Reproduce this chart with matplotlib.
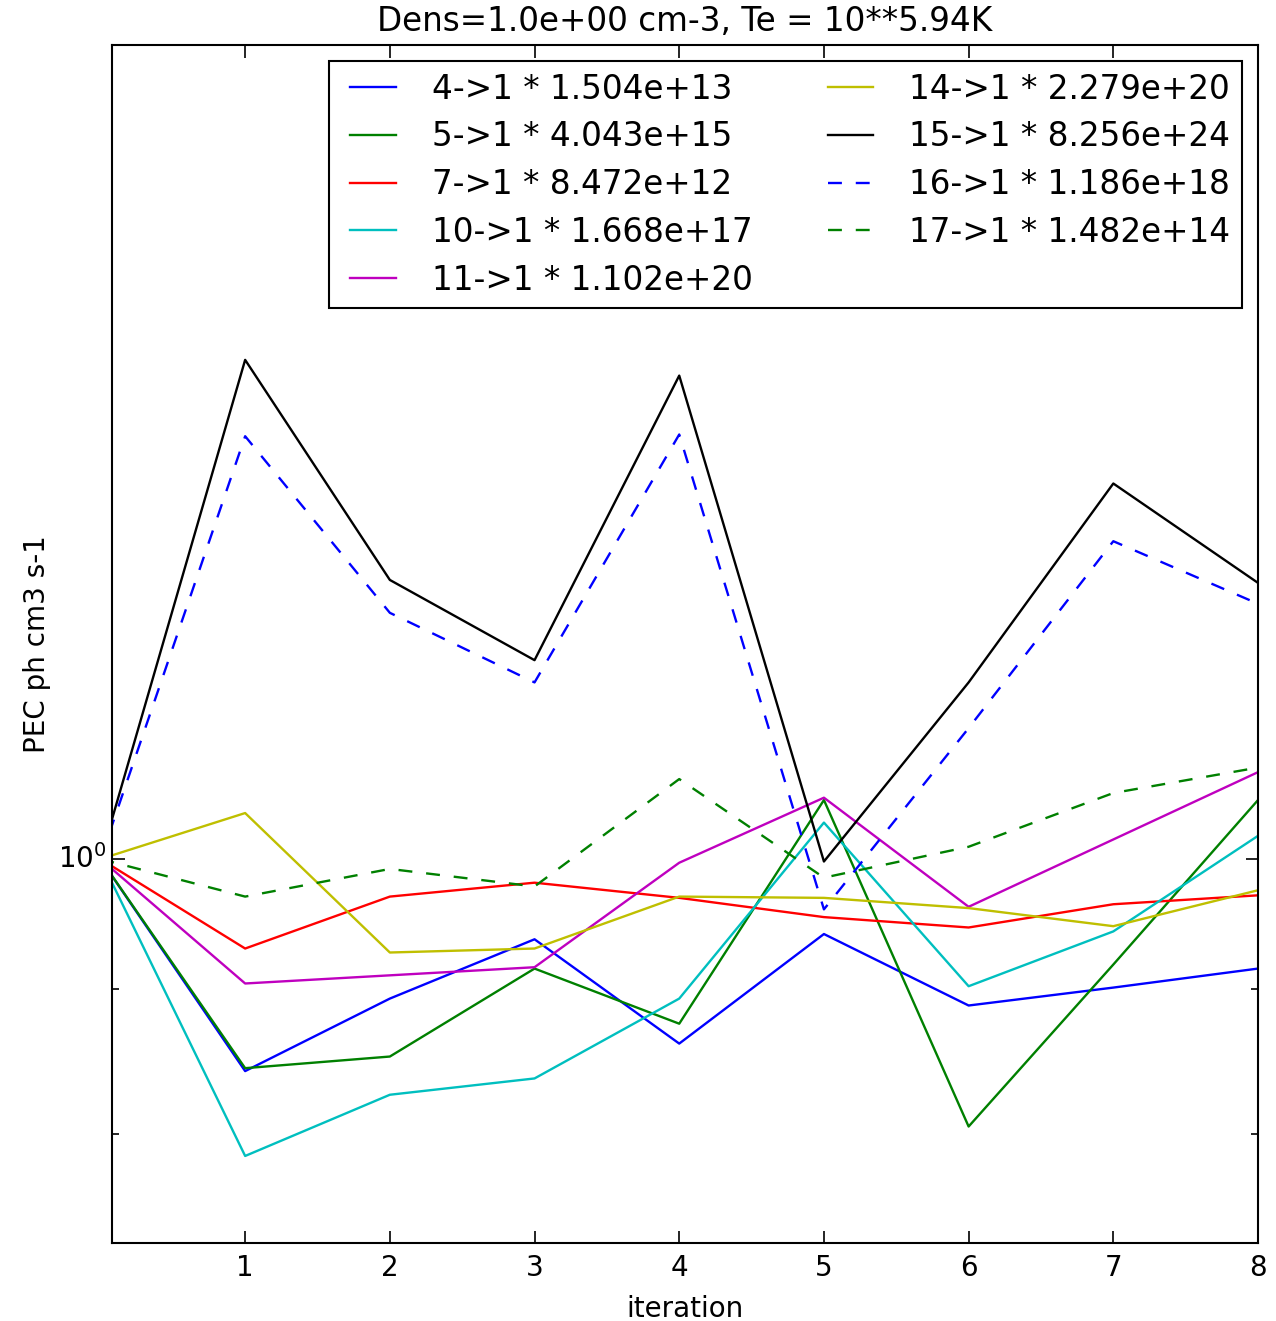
import numpy as np
import matplotlib
matplotlib.use('Agg')
import matplotlib.pyplot as plt
from matplotlib.ticker import NullFormatter

plt.style.use('classic')
plt.rcParams['font.size'] = 20
plt.rcParams['lines.scale_dashes'] = False
plt.rcParams['mathtext.default'] = 'regular'

# PEC ratio per iteration (normalised to 1 at iteration 0)
iteration = np.arange(9)

pec_4_1 = [1.0, 0.842, 0.893, 0.937, 0.861, 0.941, 0.888, 0.901, 0.915]
pec_5_1 = [1.0, 0.844, 0.852, 0.915, 0.875, 1.049, 0.805, 0.918, 1.049]
pec_7_1 = [1.0, 0.930, 0.970, 0.981, 0.969, 0.954, 0.946, 0.964, 0.971]
pec_10_1 = [1.0, 0.786, 0.826, 0.837, 0.893, 1.030, 0.902, 0.943, 1.019]
pec_11_1 = [1.0, 0.904, 0.910, 0.916, 0.997, 1.051, 0.962, 1.016, 1.073]
pec_14_1 = [1.0, 1.038, 0.927, 0.930, 0.970, 0.969, 0.961, 0.947, 0.975]
pec_15_1 = [1.0, 1.499, 1.254, 1.175, 1.480, 0.998, 1.154, 1.356, 1.251]
pec_16_1 = [1.0, 1.409, 1.221, 1.154, 1.411, 0.960, 1.112, 1.294, 1.230]
pec_17_1 = [1.0, 0.970, 0.992, 0.978, 1.067, 0.985, 1.010, 1.055, 1.077]

series = [pec_4_1, pec_5_1, pec_7_1, pec_10_1, pec_11_1,
          pec_14_1, pec_15_1, pec_16_1, pec_17_1]
labels = ['4->1 * 1.504e+13', '5->1 * 4.043e+15', '7->1 * 8.472e+12',
          '10->1 * 1.668e+17', '11->1 * 1.102e+20', '14->1 * 2.279e+20',
          '15->1 * 8.256e+24', '16->1 * 1.186e+18', '17->1 * 1.482e+14']
colors = ['b', 'g', 'r', 'c', 'm', 'y', 'k']

fig = plt.figure(figsize=(12.76, 13.21), dpi=100, facecolor='white')
ax = fig.add_axes([0.0878, 0.059, 0.8981, 0.9069])

for i, (vals, lab) in enumerate(zip(series, labels)):
    if i < len(colors):
        ax.plot(iteration, vals, color=colors[i], lw=1.7, label=lab)
    else:
        ax.plot(iteration, vals, color=colors[i % len(colors)], lw=1.7,
                ls='--', dashes=(10, 10), label=lab)

ax.set_yscale('log')
ax.set_xlim(0.08, 8)
ax.set_ylim(0.7324, 1.935)
ax.set_xticks(range(1, 9))
ax.yaxis.set_minor_formatter(NullFormatter())
ax.tick_params(which='major', length=9, width=1.2)
ax.tick_params(which='minor', length=5, width=1.2)
ax.tick_params(axis='x', which='major', pad=8)
for sp in ax.spines.values():
    sp.set_linewidth(1.5)

ax.set_xlabel('iteration', fontsize=20, labelpad=9)
ax.set_ylabel('PEC ph cm3 s-1', fontsize=20)
ax.set_title('Dens=1.0e+00 cm-3, Te = 10**5.94K', fontsize=23.5, pad=10)

leg = ax.legend(loc='upper right', ncol=2, fontsize=23.5, numpoints=2,
                handlelength=2.0, handletextpad=0.8, columnspacing=2.0,
                labelspacing=0.45, borderpad=0.35)
leg.get_frame().set_linewidth(1.5)

fig.savefig('out.png', dpi=100, facecolor='white')
